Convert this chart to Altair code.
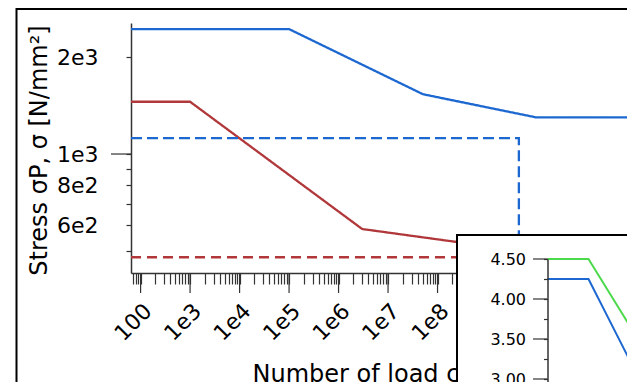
import altair as alt
import pandas as pd

# ---------------- data ----------------
blue_N = [64, 1e5, 5.1e7, 1e10, 1e13]
blue_S = [2450, 2450, 1535, 1300, 1300]
red_N = [64, 1e3, 3.0e6, 1e10, 1e13]
red_S = [1455, 1455, 584, 492, 492]
blue_dash_N = [64, 4.4e9, 4.4e9]
blue_dash_S = [1120, 1120, 426]
red_dash_N = [64, 1e13]
red_dash_S = [477, 477]

inset_N = [100, 1e3, 1e4, 1e5]
inset_green = [4.5, 4.5, 3.67, 2.84]
inset_blue = [4.25, 4.25, 3.24, 2.54]

x_decades = [100, 1e3, 1e4, 1e5, 1e6, 1e7, 1e8, 1e9, 1e10, 1e11, 1e12]
x_decade_labels = ["100", "1e3", "1e4", "1e5", "1e6", "1e7", "1e8", "1e9", "1e10", "1e11", "1e12"]
x_minor = [k * 10 ** d for d in range(1, 13) for k in range(2, 10)]
y_ticks = [500, 600, 700, 800, 900, 1000, 2000]
y_tick_labels = ["", "6e2", "", "8e2", "", "1e3", "2e3"]
y_major = [1000]
inset_ticks = [3.0, 3.25, 3.5, 3.75, 4.0, 4.25, 4.5]
inset_tick_labels = ["3.00", "", "3.50", "", "4.00", "", "4.50"]
inset_major = [3.0, 3.5, 4.0, 4.5]

BLUE = "#1c68d0"
RED = "#b1383a"
GREEN = "#4cda4c"
FONT = "DejaVu Sans"

def label_expr(values, labels):
    expr = "''"
    for v, l in reversed(list(zip(values, labels))):
        expr = f"datum.value == {v!r} ? '{l}' : ({expr})"
    return expr

rows = []
for name, xs, ys in [("blue", blue_N, blue_S), ("red", red_N, red_S),
                     ("blue_dash", blue_dash_N, blue_dash_S), ("red_dash", red_dash_N, red_dash_S)]:
    for i, (x, y) in enumerate(zip(xs, ys)):
        rows.append({"series": name, "N": x, "S": y, "i": i})
main_df = pd.DataFrame(rows)

inset_df = pd.DataFrame(
    [{"series": "green", "N": x, "v": y, "i": i} for i, (x, y) in enumerate(zip(inset_N, inset_green))]
    + [{"series": "blue", "N": x, "v": y, "i": i} for i, (x, y) in enumerate(zip(inset_N, inset_blue))]
)

# scales with pixel ranges inside a full-window plot area (independent per layer, identical mappings)
def main_x_scale():
    return alt.Scale(type="log", domain=[64, 1e13], range=[123, 677])
def main_y_scale():
    return alt.Scale(type="log", domain=[426, 2559], range=[265, 15])
def inset_x_scale():
    return alt.Scale(type="log", domain=[100, 1e6], range=[539.5, 703.5])
def inset_y_scale():
    return alt.Scale(type="linear", domain=[2.5, 4.5], range=[411, 251], zero=False, nice=False)

all_x_ticks = sorted(x_decades + x_minor)

x_axis = alt.Axis(
    orient="bottom", offset=-109, values=all_x_ticks, tickSize=11, tickWidth=1.2,
    tickColor="#333", domainColor="#333", domainWidth=1.5, grid=False,
    labelExpr=label_expr(x_decades, x_decade_labels), labelAngle=-45, labelPadding=16,
    labelFontSize=22, labelFont=FONT, labelColor="black", labelOverlap=False, labelFlush=False,
    title="Number of load cycles", titleFont=FONT, titleFontSize=24, titleFontWeight="normal",
    titleColor="black", titleAlign="left", titleBaseline="alphabetic", titleX=244, titleY=108,
)
y_axis = alt.Axis(
    orient="left", offset=-123, values=y_ticks, tickSize=5, tickWidth=1.2,
    tickColor="#333", domainColor="#333", domainWidth=1.5, grid=False,
    labelExpr=label_expr(y_ticks, y_tick_labels), labelPadding=28,
    labelFontSize=22, labelFont=FONT, labelColor="black", labelOverlap=False,
    title="Stress σP, σ [N/mm²]", titleFont=FONT, titleFontSize=24, titleFontWeight="normal",
    titleColor="black", titleAngle=270, titleAlign="center", titleBaseline="middle",
    titleX=-92, titleY=142,
)
inset_y_axis = alt.Axis(
    orient="left", offset=-539.5, values=inset_ticks, tickSize=4, tickWidth=1.2,
    tickColor="#333", domainColor="#333", domainWidth=1.5, grid=False,
    labelExpr=label_expr(inset_ticks, inset_tick_labels), labelPadding=18,
    labelFontSize=16, labelFont=FONT, labelColor="black", labelOverlap=False,
    title=None, zindex=1,
)

color_scale = alt.Scale(domain=["blue", "red", "blue_dash", "red_dash"], range=[BLUE, RED, BLUE, RED])
dash_scale = alt.Scale(domain=["blue", "red", "blue_dash", "red_dash"], range=[[1, 0], [1, 0], [11, 5], [10, 6]])

one = pd.DataFrame({"a": [0]})
frame_top = alt.Chart(one).mark_rule(color="black", strokeWidth=2).encode(
    x=alt.value(8), x2=alt.value(700), y=alt.value(1))
frame_left = alt.Chart(one).mark_rule(color="black", strokeWidth=2).encode(
    x=alt.value(8.5), y=alt.value(0), y2=alt.value(400))

main_lines = alt.Chart(main_df).mark_line(strokeWidth=2.3).encode(
    x=alt.X("N:Q", scale=main_x_scale(), axis=x_axis),
    y=alt.Y("S:Q", scale=main_y_scale(), axis=y_axis),
    color=alt.Color("series:N", scale=color_scale, legend=None),
    strokeDash=alt.StrokeDash("series:N", scale=dash_scale, legend=None),
    order="i:Q",
    detail="series:N",
)
x_major_ticks = alt.Chart(pd.DataFrame({"N": x_decades})).mark_rule(color="#333", strokeWidth=1.2).encode(
    x=alt.X("N:Q", scale=main_x_scale(), axis=None), y=alt.value(265), y2=alt.value(285))
y_major_ticks = alt.Chart(pd.DataFrame({"S": y_major})).mark_rule(color="#333", strokeWidth=1.2).encode(
    y=alt.Y("S:Q", scale=main_y_scale(), axis=None), x=alt.value(103), x2=alt.value(123))

inset_box = alt.Chart(one).mark_rect(fill="white", stroke="black", strokeWidth=2).encode(
    x=alt.value(449), x2=alt.value(800), y=alt.value(227), y2=alt.value(500))
inset_lines = alt.Chart(inset_df).mark_line(strokeWidth=2).encode(
    x=alt.X("N:Q", scale=inset_x_scale(), axis=None),
    y=alt.Y("v:Q", scale=inset_y_scale(), axis=inset_y_axis),
    color=alt.Color("series:N", scale=alt.Scale(domain=["green", "blue"], range=[GREEN, BLUE]), legend=None),
    order="i:Q",
)
inset_major_ticks = alt.Chart(pd.DataFrame({"v": inset_major})).mark_rule(color="#333", strokeWidth=1.2).encode(
    y=alt.Y("v:Q", scale=inset_y_scale(), axis=None), x=alt.value(525), x2=alt.value(539.5))

chart = alt.layer(
    frame_top, frame_left, main_lines, x_major_ticks, y_major_ticks,
    inset_box, inset_lines, inset_major_ticks,
).resolve_scale(
    x="independent", y="independent", color="independent"
).properties(
    width=619, height=374, padding=0, autosize=alt.AutoSizeParams(type="none"), background="white"
).configure_view(stroke=None)

chart.save("out.html", embed_options={"renderer": "svg", "actions": False})
